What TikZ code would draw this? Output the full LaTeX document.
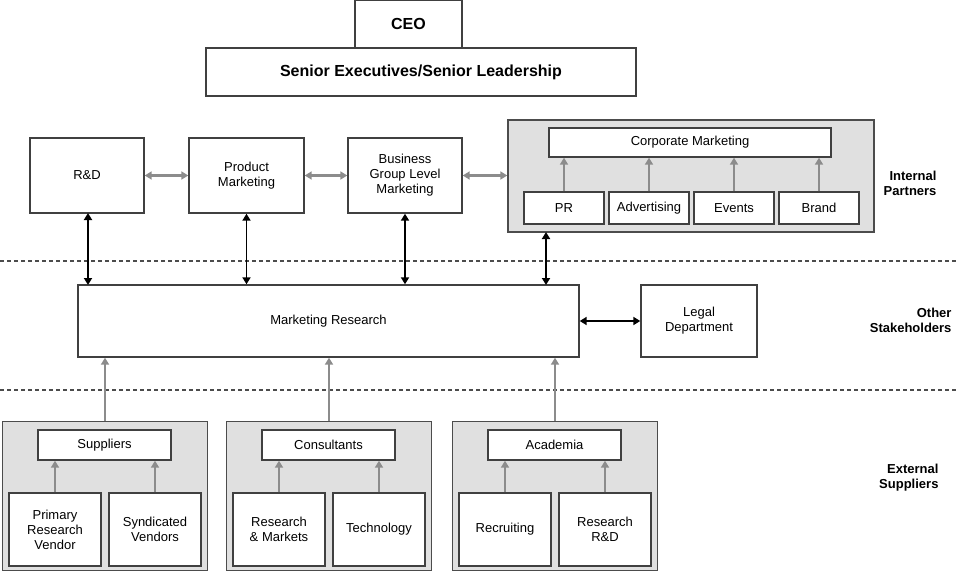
\documentclass[tikz,border=0pt]{standalone}
\usepackage{fontspec}
\setmainfont{Liberation Sans}
\usetikzlibrary{arrows.meta}
\begin{document}
\begin{tikzpicture}[x=1pt,y=-1pt,
 box/.style={draw=black!75,line width=1.4pt,fill=white,align=center,font=\fontsize{13}{15}\selectfont},
 panel/.style={draw=black!70,line width=1.4pt,fill=black!12},
 ga/.style={draw=black!45,line width=2.6pt,-{Triangle[length=7pt,width=8pt]}},
 gd/.style={draw=black!45,line width=2.6pt,{Triangle[length=7pt,width=8pt]}-{Triangle[length=7pt,width=8pt]}},
 bd/.style={draw=black,line width=1.8pt,{Triangle[length=7pt,width=8pt]}-{Triangle[length=7pt,width=8pt]}},
 side/.style={font=\bfseries\fontsize{13}{15}\selectfont,align=right,anchor=east},
 dashln/.style={draw=black!70,line width=1.2pt,dash pattern=on 4pt off 3pt}]
\useasboundingbox (0,0) rectangle (958,572);
\newcommand\bx[6]{\node[box,minimum width={(#4)-(#2)},minimum height={(#5)-(#3)},inner sep=1pt] (#1) at ({((#2)+(#4))/2},{((#3)+(#5))/2}) {#6};}
\draw[dashln] (0,261) -- (958,261);
\draw[dashln] (0,390) -- (958,390);
\bx{ceo}{355}{0}{462}{48}{\bfseries\fontsize{16}{18}\selectfont CEO}
\bx{sen}{206}{48}{636}{96}{\bfseries\fontsize{16}{18}\selectfont Senior Executives/Senior Leadership}
\bx{rd}{30}{138}{144}{213}{R\&D}
\bx{pm}{189}{138}{304}{213}{Product\\Marketing}
\bx{bg}{348}{138}{462}{213}{Business\\Group Level\\Marketing}
\node[panel,minimum width=366,minimum height=112] (cp) at (691,176) {};
\bx{cm}{549}{128}{831}{157}{Corporate Marketing}
\bx{pr}{524}{192}{604}{224}{PR}
\bx{ad}{609}{192}{689}{224}{Advertising}
\bx{ev}{694}{192}{774}{224}{Events}
\bx{br}{779}{192}{859}{224}{Brand}
\foreach \n in {pr,ad,ev,br} \draw[ga] (\n.north) -- (\n.north |- cm.south);
\draw[gd] (rd.east) -- (pm.west);
\draw[gd] (pm.east) -- (bg.west);
\draw[gd] (bg.east) -- (bg.east -| cp.west);
\bx{mr}{78}{285}{579}{357}{Marketing Research}
\bx{lg}{641}{285}{757}{357}{Legal\\Department}
\draw[bd] (88,213) -- (88,285);
\draw[bd] (pm.south) -- (pm.south |- mr.north);
\draw[bd] (bg.south) -- (bg.south |- mr.north);
\draw[bd] (546,232) -- (546,285);
\draw[bd] (mr.east) -- (lg.west);
\node[side] at (940,183) {Internal\\Partners};
\node[side] at (955,320) {Other\\Stakeholders};
\node[side] at (942,478) {External\\Suppliers};
\foreach \i/\x/\t/\a/\b in {1/2/Suppliers/{Primary\\Research\\Vendor}/{Syndicated\\Vendors},2/226/Consultants/{Research\\\& Markets}/Technology,3/452/Academia/Recruiting/{Research\\R\&D}}{
 \node[panel,minimum width=205,minimum height=149] (p\i) at (\x+103,496) {};
 \bx{h\i}{\x+36}{430}{\x+169}{460}{\t}
 \bx{l\i}{\x+7}{493}{\x+99}{566}{\a}
 \bx{r\i}{\x+107}{493}{\x+199}{566}{\b}
 \draw[ga] (l\i.north) -- (l\i.north |- h\i.south);
 \draw[ga] (r\i.north) -- (r\i.north |- h\i.south);
 \draw[ga] (p\i.north) -- (p\i.north |- mr.south);
}
\end{tikzpicture}
\end{document}
